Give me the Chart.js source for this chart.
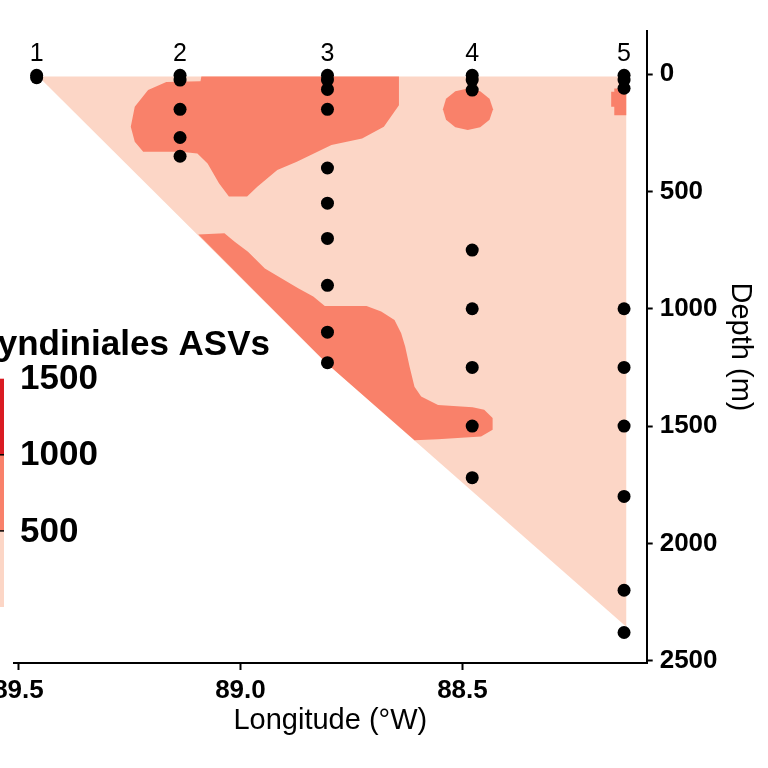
<!DOCTYPE html>
<html>
<head>
<meta charset="utf-8">
<script src="https://cdn.jsdelivr.net/npm/chart.js@4.4.1/dist/chart.umd.min.js"></script>
<style>
  html, body { margin: 0; padding: 0; background: #fff; }
  canvas { display: block; }
</style>
</head>
<body>
<canvas id="section-chart" width="768" height="768"></canvas>
<script>
  // Stations along the transect
  const stationNames = ['1', '2', '3', '4', '5'];
  const stationLon = [89.459, 89.136, 88.804, 88.478, 88.136];
  const sampleDepths = [
    [5, 15],
    [5, 25, 150, 270, 350],
    [5, 25, 65, 150, 400, 550, 700, 900, 1100, 1230],
    [5, 25, 68, 750, 1000, 1250, 1500, 1720],
    [5, 25, 60, 1000, 1250, 1500, 1800, 2200, 2380]
  ];

  // Axis ticks
  const lonTicks = [89.5, 89.0, 88.5];
  const depthTicks = [0, 500, 1000, 1500, 2000, 2500];

  // Colour bins (Syndiniales ASV counts)
  const binBreaks = [0, 500, 1000, 1500];
  const binColors = ['#FCD6C6', '#F9816A', '#D91B22'];
  const legendLabels = [500, 1000, 1500];

  const lowBinOutline = [
    [89.455, 10], [88.131, 10], [88.131, 2355], [88.806, 1232]
  ];
  const westSurfacePatch = [
    [89.088, 10], [88.643, 10], [88.643, 132], [88.677, 224], [88.726, 274],
    [88.795, 302], [88.873, 373], [88.917, 409], [88.962, 480], [88.985, 522],
    [89.026, 522], [89.048, 466], [89.074, 381], [89.097, 338], [89.134, 331],
    [89.219, 331], [89.238, 288], [89.247, 224], [89.238, 139], [89.208, 68],
    [89.167, 33], [89.090, 30]
  ];
  const station4Patch = [
    [88.488, 61], [88.460, 73], [88.439, 105], [88.431, 150], [88.439, 194],
    [88.460, 226], [88.488, 238], [88.516, 226], [88.537, 194], [88.544, 150],
    [88.537, 105], [88.516, 73]
  ];
  const station5Patch = [
    [88.158, 61], [88.131, 61], [88.131, 175], [88.158, 175],
    [88.158, 139], [88.165, 139], [88.165, 75], [88.158, 75]
  ];
  const deepBand = [
    [89.095, 683], [89.036, 678], [89.013, 714], [88.983, 757], [88.945, 828],
    [88.908, 870], [88.870, 913], [88.836, 948], [88.810, 988], [88.716, 988],
    [88.683, 1012], [88.653, 1048], [88.638, 1104], [88.629, 1161], [88.619, 1247],
    [88.608, 1332], [88.593, 1374], [88.555, 1410], [88.477, 1420], [88.451, 1431],
    [88.432, 1466], [88.432, 1516], [88.458, 1545], [88.555, 1556], [88.608, 1561],
    [88.700, 1408], [88.806, 1232], [88.950, 959]
  ];

  const FONT = '"Liberation Sans", Arial, Helvetica, sans-serif';

  function areaDataset(outline, color) {
    return {
      isArea: true,
      data: outline.map(([lon, depth]) => ({ x: lon, y: depth })),
      backgroundColor: color,
      pointRadius: 0,
      pointHoverRadius: 0,
      showLine: false,
      order: 5
    };
  }

  function sampleDataset() {
    const points = [];
    stationLon.forEach((lon, i) => {
      sampleDepths[i].forEach(depth => points.push({ x: lon, y: depth }));
    });
    return {
      data: points,
      backgroundColor: '#000',
      borderWidth: 0,
      pointRadius: 6.5,
      pointHoverRadius: 6.5,
      order: 0
    };
  }

  // fills the outline datasets with the positions the scales gave them
  const areaFill = {
    id: 'areaFill',
    beforeDatasetsDraw(chart) {
      const ctx = chart.ctx;
      const area = chart.chartArea;
      ctx.save();
      ctx.beginPath();
      ctx.rect(area.left, area.top, area.right - area.left, area.bottom - area.top);
      ctx.clip();
      chart.data.datasets.forEach((ds, i) => {
        if (!ds.isArea) return;
        const pts = chart.getDatasetMeta(i).data;
        ctx.beginPath();
        pts.forEach((p, j) => (j === 0 ? ctx.moveTo(p.x, p.y) : ctx.lineTo(p.x, p.y)));
        ctx.closePath();
        ctx.fillStyle = ds.backgroundColor;
        ctx.fill();
      });
      ctx.restore();
    }
  };

  const stationLabels = {
    id: 'stationLabels',
    afterDatasetsDraw(chart) {
      const ctx = chart.ctx;
      const y = chart.scales.y.getPixelForValue(-84);
      ctx.save();
      ctx.fillStyle = '#000';
      ctx.font = '25px ' + FONT;
      ctx.textAlign = 'center';
      ctx.textBaseline = 'middle';
      stationNames.forEach((name, i) => {
        ctx.fillText(name, chart.scales.x.getPixelForValue(stationLon[i]), y);
      });
      ctx.restore();
    }
  };

  // colour bar legend, partly off the left edge like the original
  const colorLegend = {
    id: 'colorLegend',
    afterDraw(chart) {
      const ctx = chart.ctx;
      const barTop = 378.7, barBottom = 607, barLeft = -20, barRight = 4;
      const valueToY = v => barBottom - (v - binBreaks[0]) / (binBreaks[binBreaks.length - 1] - binBreaks[0]) * (barBottom - barTop);
      ctx.save();
      for (let i = 0; i < binColors.length; i++) {
        const y0 = valueToY(binBreaks[i + 1]);
        const y1 = valueToY(binBreaks[i]);
        ctx.fillStyle = binColors[i];
        ctx.fillRect(barLeft, y0, barRight - barLeft, y1 - y0);
      }
      ctx.strokeStyle = '#000';
      ctx.lineWidth = 1.5;
      legendLabels.slice(0, -1).forEach(v => {
        const y = valueToY(v);
        ctx.beginPath();
        ctx.moveTo(barLeft, y);
        ctx.lineTo(barRight, y);
        ctx.stroke();
      });
      ctx.fillStyle = '#000';
      ctx.font = 'bold 35px ' + FONT;
      ctx.textAlign = 'left';
      ctx.textBaseline = 'middle';
      legendLabels.forEach(v => ctx.fillText(String(v), 20, valueToY(v) + 1));
      ctx.textAlign = 'right';
      ctx.textBaseline = 'alphabetic';
      ctx.fillText('Syndiniales ASVs', 270, 355);
      ctx.restore();
    }
  };

  const ctx = document.getElementById('section-chart').getContext('2d');
  new Chart(ctx, {
    type: 'scatter',
    data: {
      datasets: [
        areaDataset(lowBinOutline, binColors[0]),
        areaDataset(westSurfacePatch, binColors[1]),
        areaDataset(station4Patch, binColors[1]),
        areaDataset(station5Patch, binColors[1]),
        areaDataset(deepBand, binColors[1]),
        sampleDataset()
      ]
    },
    options: {
      responsive: false,
      animation: false,
      events: [],
      layout: { padding: { left: 14, top: 31, right: 0, bottom: 0 } },
      plugins: {
        legend: { display: false },
        tooltip: { enabled: false }
      },
      scales: {
        x: {
          type: 'linear',
          reverse: true,
          min: 88.085,
          max: 89.51,
          afterBuildTicks: scale => { scale.ticks = lonTicks.map(v => ({ value: v })); },
          afterFit: scale => {
            scale.height = 105;
            scale.paddingLeft = 0;
            scale.paddingRight = 0;
          },
          grid: { drawOnChartArea: false, drawTicks: true, tickLength: 7, tickWidth: 2, tickColor: '#000' },
          border: { display: true, color: '#000', width: 2 },
          ticks: {
            autoSkip: false,
            maxRotation: 0,
            padding: 5,
            color: '#000',
            font: { family: FONT, size: 26, weight: 'bold' },
            callback: v => Number(v).toFixed(1)
          },
          title: {
            display: true,
            text: 'Longitude (°W)',
            color: '#000',
            font: { family: FONT, size: 29 },
            padding: { top: 0, bottom: 30 }
          }
        },
        y: {
          type: 'linear',
          position: 'right',
          reverse: true,
          min: -184,
          max: 2510,
          afterBuildTicks: scale => { scale.ticks = depthTicks.map(v => ({ value: v })); },
          afterFit: scale => {
            scale.width = 121.3;
            scale.paddingTop = 0;
            scale.paddingBottom = 0;
          },
          grid: { drawOnChartArea: false, drawTicks: true, tickLength: 6, tickWidth: 2, tickColor: '#000' },
          border: { display: true, color: '#000', width: 2 },
          ticks: {
            autoSkip: false,
            padding: 7,
            color: '#000',
            font: { family: FONT, size: 26, weight: 'bold' },
            callback: v => String(v)
          },
          title: {
            display: true,
            text: 'Depth (m)',
            color: '#000',
            font: { family: FONT, size: 29 },
            padding: { top: 11, bottom: 0 }
          }
        }
      }
    },
    plugins: [areaFill, stationLabels, colorLegend]
  });
</script>
</body>
</html>
